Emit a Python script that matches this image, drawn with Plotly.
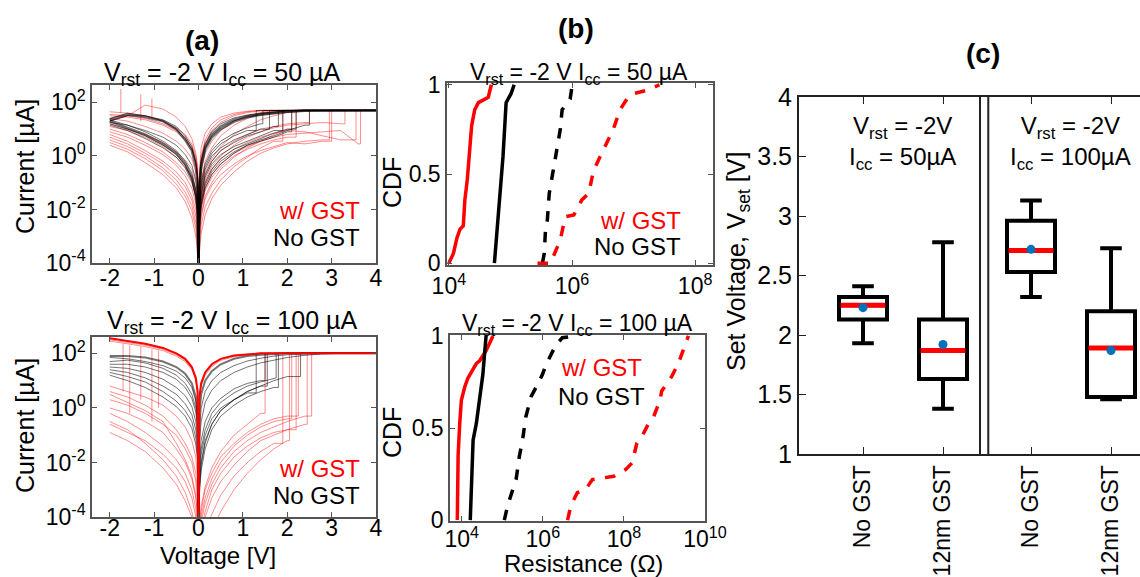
import plotly.graph_objects as go

W, H = 1140, 577
FONT = "Arial, Liberation Sans, Helvetica, sans-serif"

# ================= DATA =================
# ---- (a) I-V sweeps: log10(|I| / uA) read at a fixed voltage grid ----
V_NEG = [-2.0, -1.6, -1.2, -0.8, -0.5, -0.3, -0.15, -0.06, -0.02, 0.0]
V_POS = [0.0, 0.02, 0.06, 0.15, 0.3, 0.5, 0.8, 1.1, 1.4, 1.7, 2.0, 2.4, 2.8, 3.2, 3.6, 4.0]
V_END = 4.0
CC_LOG_50 = 1.7
CC_LOG_100 = 2.0

# Icc = 50 uA
IV50_RED_NEG = [
    [1.65, 1.6, 1.5, 1.3, 1.05, 0.8, 0.45, 0.0, -0.5, -4.5],
    [1.4, 1.3, 1.1, 0.85, 0.55, 0.25, -0.1, -0.6, -1.1, -4.5],
    [1.2, 1.0, 0.8, 0.5, 0.15, -0.15, -0.5, -1.0, -1.5, -4.5],
    [1.0, 0.8, 0.5, 0.15, -0.25, -0.6, -1.0, -1.5, -2.1, -4.5],
    [0.8, 0.55, 0.2, -0.2, -0.6, -1.0, -1.5, -2.0, -2.7, -4.5],
    [0.6, 0.35, 0.0, -0.45, -0.9, -1.35, -1.85, -2.5, -3.2, -4.5],
    [0.4, 0.15, -0.25, -0.7, -1.2, -1.7, -2.3, -3.0, -3.7, -4.5],
    [1.5, 1.45, 1.35, 1.15, 0.9, 0.6, 0.25, -0.25, -0.8, -4.5],
    [0.9, 0.7, 0.4, 0.05, -0.35, -0.75, -1.2, -1.8, -2.4, -4.5],
    [1.3, 1.5, 1.9, 1.75, 1.45, 1.1, 0.65, 0.1, -0.4, -4.5],
    [1.1, 0.95, 0.7, 0.35, -0.05, -0.4, -0.8, -1.3, -1.9, -4.5],
    [0.7, 0.45, 0.1, -0.3, -0.75, -1.15, -1.65, -2.25, -2.9, -4.5],
    [1.55, 1.5, 1.4, 1.2, 0.95, 0.7, 0.35, -0.1, -0.65, -4.5],
    [0.5, 0.25, -0.1, -0.55, -1.05, -1.5, -2.05, -2.7, -3.4, -4.5],
]
IV50_RED_RESET_V = [-1.75, -1.3, -1.05]
IV50_RED_RESET_HI = [2.5, 2.3, 2.15]
IV50_RED_RESET_LO = [1.6, 1.3, 1.4]
IV50_BLK_NEG = [
    [1.35, 1.55, 1.45, 1.3, 1.0, 0.6, 0.2, -0.4, -1.0, -4.5],
    [1.3, 1.05, 0.8, 0.45, 0.1, -0.3, -0.8, -1.4, -2.0, -4.5],
    [1.4, 1.6, 1.5, 1.35, 1.1, 0.75, 0.35, -0.2, -0.8, -4.5],
    [1.2, 1.0, 0.75, 0.4, 0.05, -0.35, -0.85, -1.5, -2.1, -4.5],
    [1.25, 1.15, 0.95, 0.7, 0.4, 0.05, -0.35, -0.9, -1.5, -4.5],
    [1.15, 0.95, 0.65, 0.3, -0.05, -0.45, -0.95, -1.6, -2.3, -4.5],
    [1.3, 1.5, 1.5, 1.3, 1.0, 0.65, 0.25, -0.3, -0.9, -4.5],
    [1.35, 1.15, 0.9, 0.55, 0.2, -0.2, -0.65, -1.25, -1.85, -4.5],
]
IV50_RED_LRS = [
    [-4.5, -0.6, 0.3, 0.85, 1.2, 1.45, 1.6, 1.67, 1.7, 1.7, 1.7, 1.7, 1.7, 1.7, 1.7, 1.7],
    [-4.5, -1.0, -0.1, 0.5, 0.95, 1.25, 1.5, 1.62, 1.68, 1.7, 1.7, 1.7, 1.7, 1.7, 1.7, 1.7],
    [-4.5, -1.5, -0.6, 0.1, 0.55, 0.95, 1.3, 1.5, 1.62, 1.68, 1.7, 1.7, 1.7, 1.7, 1.7, 1.7],
    [-4.5, -0.9, 0.0, 0.6, 1.05, 1.35, 1.55, 1.65, 1.7, 1.7, 1.7, 1.7, 1.7, 1.7, 1.7, 1.7],
    [-4.5, -1.8, -0.9, -0.2, 0.3, 0.75, 1.15, 1.4, 1.58, 1.66, 1.7, 1.7, 1.7, 1.7, 1.7, 1.7],
    [-4.5, -2.2, -1.3, -0.6, -0.1, 0.35, 0.8, 1.1, 1.35, 1.5, 1.62, 1.68, 1.7, 1.7, 1.7, 1.7],
]
IV50_BLK_LRS = [
    [-4.5, -1.2, -0.3, 0.35, 0.8, 1.1, 1.35, 1.48, 1.56, 1.62, 1.66, 1.7, 1.7, 1.7, 1.7, 1.7],
    [-4.5, -1.3, -0.4, 0.25, 0.7, 1.0, 1.28, 1.44, 1.54, 1.6, 1.65, 1.69, 1.7, 1.7, 1.7, 1.7],
    [-4.5, -1.1, -0.2, 0.45, 0.9, 1.2, 1.42, 1.53, 1.6, 1.65, 1.68, 1.7, 1.7, 1.7, 1.7, 1.7],
]
IV50_RED_HRS = [
    [-4.5, -2.8, -2.0, -1.3, -0.8, -0.4, 0.0, 0.25, 0.45, 0.6, 0.7],
    [-4.5, -3.0, -2.3, -1.6, -1.1, -0.7, -0.3, 0.0, 0.2, 0.35, 0.5, 0.45, 0.55],
    [-4.5, -2.5, -1.7, -1.0, -0.5, -0.1, 0.25, 0.5, 0.7, 0.85, 0.95, 0.9, 0.75, 0.6],
    [-4.5, -2.2, -1.4, -0.7, -0.2, 0.2, 0.55, 0.8, 1.0, 1.1, 1.2, 1.25],
    [-4.5, -3.3, -2.6, -1.9, -1.4, -0.9, -0.4, -0.05, 0.3, 0.55],
    [-4.5, -2.7, -1.9, -1.2, -0.7, -0.3, 0.1, 0.35, 0.55, 0.7, 0.8, 0.85, 0.9, 0.95, 0.45],
    [-4.5, -3.6, -2.9, -2.2, -1.6, -1.1, -0.6, -0.2, 0.1, 0.3, 0.45, 0.55, 0.6],
    [-4.5, -3.0, -2.2, -1.5, -1.0, -0.5, -0.05, 0.3, 0.55, 0.8, 1.0],
    [-4.5, -2.4, -1.6, -0.9, -0.4, 0.0, 0.4, 0.7, 0.9, 1.05, 1.15, 1.2, 1.25, 1.2],
]
IV50_RED_VSET = [2.2, 3.0, 3.55, 2.5, 1.9, 3.65, 2.95, 2.1, 3.3]
IV50_BLK_HRS = [
    [-4.5, -2.3, -1.5, -0.8, -0.3, 0.05, 0.35, 0.55, 0.75, 0.95],
    [-4.5, -2.0, -1.2, -0.5, 0.0, 0.3, 0.6, 0.8, 1.0],
    [-4.5, -2.5, -1.7, -1.0, -0.5, -0.1, 0.25, 0.45, 0.65, 0.85, 1.0],
    [-4.5, -1.9, -1.1, -0.4, 0.1, 0.45, 0.75, 0.95],
    [-4.5, -2.7, -1.9, -1.2, -0.7, -0.3, 0.1, 0.4, 0.6, 0.75, 0.95, 1.15],
    [-4.5, -2.2, -1.4, -0.7, -0.2, 0.2, 0.5, 0.75, 0.9, 1.1],
    [-4.5, -2.6, -1.8, -1.1, -0.6, -0.2, 0.15, 0.4, 0.55, 0.7, 0.9],
    [-4.5, -1.8, -1.0, -0.3, 0.2, 0.55, 0.85, 1.05, 1.2],
]
IV50_BLK_VSET = [1.9, 1.6, 2.2, 1.3, 2.5, 1.8, 2.1, 1.45]

# Icc = 100 uA
IV100_RED_NEG = [
    [2.55, 2.45, 2.35, 2.2, 2.0, 1.8, 1.5, 1.1, 0.6, -4.5],
    [2.5, 2.4, 2.3, 2.15, 1.95, 1.75, 1.45, 1.05, 0.55, -4.5],
    [0.8, 0.6, 0.4, 0.1, -0.3, -0.7, -1.2, -1.8, -2.6, -4.5],
    [0.3, 0.1, -0.2, -0.6, -1.0, -1.5, -2.0, -2.7, -3.5, -4.5],
    [-0.2, -0.5, -0.9, -1.4, -1.9, -2.4, -3.0, -3.7, -4.3, -4.5],
    [-0.9, -1.2, -1.6, -2.2, -2.8, -3.4, -4.0, -4.5, -4.5, -4.5],
    [0.5, 0.2, -0.1, -0.5, -1.3, -1.9, -2.5, -3.2, -3.9, -4.5],
    [-0.5, -0.8, -1.3, -1.9, -2.5, -3.1, -3.8, -4.5, -4.5, -4.5],
    [0.0, -0.2, -0.5, -0.9, -1.5, -2.0, -2.6, -3.3, -4.0, -4.5],
    [0.6, 0.4, 0.1, -0.3, -0.8, -1.3, -1.8, -2.4, -3.1, -4.5],
    [-0.6, -0.9, -1.2, -1.7, -2.2, -2.7, -3.3, -4.0, -4.5, -4.5],
    [2.45, 2.35, 2.25, 2.1, 1.9, 1.7, 1.4, 1.0, 0.5, -4.5],
]
IV100_RED_RESET_V = [-1.7, -1.55, -1.3, -1.05, -0.9]
IV100_RED_RESET_HI = [2.35, 2.3, 2.25, 2.15, 2.1]
IV100_RED_RESET_LO = [0.6, -0.2, 0.3, -0.5, 0.0]
IV100_BLK_NEG = [
    [1.9, 1.9, 1.85, 1.7, 1.5, 1.25, 0.9, 0.4, -0.2, -4.5],
    [1.7, 1.75, 1.65, 1.45, 1.2, 0.9, 0.5, 0.0, -0.6, -4.5],
    [1.5, 1.45, 1.3, 1.05, 0.75, 0.45, 0.05, -0.5, -1.1, -4.5],
    [1.3, 1.15, 0.95, 0.6, 0.25, -0.1, -0.5, -1.1, -1.7, -4.5],
    [1.85, 1.8, 1.7, 1.55, 1.35, 1.1, 0.75, 0.25, -0.35, -4.5],
    [1.6, 1.6, 1.5, 1.3, 1.05, 0.75, 0.35, -0.15, -0.75, -4.5],
    [1.4, 1.3, 1.1, 0.8, 0.5, 0.15, -0.25, -0.8, -1.4, -4.5],
    [1.2, 1.0, 0.75, 0.4, 0.05, -0.3, -0.75, -1.35, -1.95, -4.5],
]
IV100_RED_LRS = [
    [-4.5, 0.4, 0.9, 1.3, 1.6, 1.8, 1.92, 1.97, 2.0, 2.0, 2.0, 2.0, 2.0, 2.0, 2.0, 2.0],
    [-4.5, 0.3, 0.8, 1.2, 1.52, 1.74, 1.88, 1.95, 1.99, 2.0, 2.0, 2.0, 2.0, 2.0, 2.0, 2.0],
]
IV100_BLK_LRS = [
    [-4.5, -0.2, 0.5, 1.0, 1.35, 1.6, 1.8, 1.9, 1.95, 1.98, 2.0, 2.0, 2.0, 2.0, 2.0, 2.0],
    [-4.5, -0.8, 0.0, 0.6, 1.0, 1.3, 1.55, 1.72, 1.82, 1.9, 1.95, 1.98, 2.0, 2.0, 2.0, 2.0],
    [-4.5, -1.3, -0.5, 0.2, 0.65, 1.0, 1.3, 1.5, 1.65, 1.76, 1.85, 1.93, 1.98, 2.0, 2.0, 2.0],
]
IV100_RED_HRS = [
    [-4.5, -4.5, -4.2, -3.5, -2.8, -2.2, -1.6, -1.2, -0.9, -0.7, -0.5, -0.3],
    [-4.5, -4.5, -4.5, -4.0, -3.3, -2.7, -2.1, -1.6, -1.2, -1.0, -0.8],
    [-4.5, -4.5, -4.0, -3.3, -2.6, -2.0, -1.4, -1.0, -0.7, -0.5, -0.4],
    [-4.5, -4.5, -4.5, -4.5, -3.9, -3.2, -2.5, -2.0, -1.6, -1.3],
    [-4.5, -4.3, -3.6, -2.9, -2.2, -1.6, -1.0, -0.6, -0.2],
    [-4.5, -4.5, -4.5, -3.8, -3.0, -2.4, -1.8, -1.4, -1.1, -0.9, -0.8, -0.6],
    [-4.5, -4.5, -3.8, -3.0, -2.4, -1.8, -1.3, -0.9, -0.6, -0.4, -0.3],
    [-4.5, -4.5, -4.5, -4.5, -4.5, -3.8, -3.0, -2.4, -1.9, -1.5, -1.2],
]
IV100_RED_VSET = [2.55, 2.2, 2.1, 1.9, 1.5, 2.45, 2.25, 2.05]
IV100_BLK_HRS = [
    [-4.5, -2.0, -1.2, -0.5, 0.0, 0.35, 0.7, 0.9, 1.0],
    [-4.5, -2.6, -1.7, -1.0, -0.4, 0.0, 0.3, 0.55],
    [-4.5, -2.8, -2.0, -1.2, -0.6, -0.1, 0.3, 0.6, 0.8, 1.0, 1.15],
    [-4.5, -3.2, -2.3, -1.5, -0.8, -0.3, 0.1, 0.4, 0.6, 0.75],
    [-4.5, -2.3, -1.5, -0.8, -0.2, 0.2, 0.55, 0.8, 0.95, 1.1],
    [-4.5, -3.0, -2.1, -1.3, -0.6, -0.1, 0.3, 0.6, 0.8],
]
IV100_BLK_VSET = [1.5, 1.3, 2.3, 1.8, 1.75, 1.55]

# ---- (b) CDF of resistance: log10(R / Ohm) and CDF value ----
B50_RED_SOLID_LOGR = [4.0, 4.075, 4.13, 4.18, 4.235, 4.26, 4.30, 4.33, 4.37, 4.42, 4.48, 4.64, 4.69]
B50_RED_SOLID_CDF = [0, 0.056, 0.14, 0.19, 0.21, 0.355, 0.47, 0.6, 0.77, 0.86, 0.90, 0.93, 1.0]
B50_BLK_SOLID_LOGR = [4.74, 4.82, 4.88, 4.93, 5.01, 5.06]
B50_BLK_SOLID_CDF = [0, 0.355, 0.6, 0.9, 0.95, 1.0]
B50_BLK_DASH_LOGR = [5.52, 5.55, 5.57, 5.60, 5.63, 5.65, 5.71, 5.73, 5.79, 5.81, 5.84, 5.97, 6.0, 6.11]
B50_BLK_DASH_CDF = [0, 0.056, 0.19, 0.243, 0.39, 0.43, 0.54, 0.58, 0.69, 0.75, 0.86, 0.92, 0.99, 1.0]
B50_RED_DASH_LOGR = [5.44, 5.65, 5.81, 5.89, 6.03, 6.16, 6.27, 6.35, 6.46, 6.56, 6.67, 6.78, 6.91, 6.99, 7.23, 7.42]
B50_RED_DASH_CDF = [0, 0.0, 0.13, 0.26, 0.27, 0.355, 0.39, 0.52, 0.6, 0.67, 0.75, 0.86, 0.93, 0.95, 0.97, 1.0]

B100_RED_SOLID_LOGR = [3.89, 3.91, 3.95, 3.99, 4.07, 4.15, 4.28, 4.36, 4.44, 4.60, 4.77]
B100_RED_SOLID_CDF = [0, 0.35, 0.525, 0.65, 0.72, 0.77, 0.82, 0.85, 0.865, 0.92, 1.0]
B100_BLK_SOLID_LOGR = [4.21, 4.28, 4.36, 4.44, 4.52, 4.60]
B100_BLK_SOLID_CDF = [0, 0.435, 0.525, 0.65, 0.79, 1.0]
B100_BLK_DASH_LOGR = [5.05, 5.13, 5.26, 5.34, 5.42, 5.50, 5.58, 5.71, 5.83, 5.99, 6.08, 6.20, 6.32, 6.48, 6.81]
B100_BLK_DASH_CDF = [0, 0.077, 0.167, 0.22, 0.345, 0.435, 0.56, 0.67, 0.72, 0.79, 0.845, 0.9, 0.95, 0.99, 1.0]
B100_RED_DASH_LOGR = [6.61, 6.69, 6.85, 7.06, 7.22, 7.46, 7.75, 8.04, 8.20, 8.32, 8.44, 8.61, 8.73, 8.89, 8.93, 9.18, 9.34, 9.51, 9.59]
B100_RED_DASH_CDF = [0, 0.077, 0.149, 0.167, 0.22, 0.23, 0.238, 0.274, 0.31, 0.418, 0.453, 0.525, 0.56, 0.65, 0.70, 0.78, 0.85, 0.95, 1.0]

# ---- (c) Set voltage box statistics ----
C_POS = [1.0, 2.0, 3.1, 4.1]
C_LABELS = ["No GST", "12nm GST", "No GST", "12nm GST"]
C_LOWER = [1.93, 1.38, 2.32, 1.46]
C_Q1 = [2.13, 1.63, 2.53, 1.48]
C_MED = [2.25, 1.87, 2.71, 1.89]
C_Q3 = [2.32, 2.13, 2.96, 2.20]
C_UPPER = [2.41, 2.78, 3.13, 2.73]
C_MEAN = [2.23, 1.92, 2.72, 1.87]
C_DIVIDERS = [2.4625, 2.566]

# ================= FIGURE =================
RED_T = "rgba(255,0,0,0.45)"
BLK_T = "rgba(0,0,0,0.55)"

fig = go.Figure()


def line(x, y, xa, ya, color, width, dash="solid"):
    fig.add_trace(go.Scatter(x=x, y=y, mode="lines", xaxis=xa, yaxis=ya,
                             line=dict(color=color, width=width, dash=dash),
                             showlegend=False, hoverinfo="skip"))


def add_iv(xa, ya, neg, lrs, hrs, vset, cc, color, thick=0, thick_w=2.5):
    for i, vals in enumerate(neg):
        line(V_NEG, [10 ** v for v in vals], xa, ya, color, thick_w if i < thick else 1)
    for i, vals in enumerate(lrs):
        line(V_POS[:len(vals)], [10 ** v for v in vals], xa, ya, color, thick_w if i < thick else 1)
    for vals, vs in zip(hrs, vset):
        xs = V_POS[:len(vals)] + [vs, vs, V_END]
        ys = [10 ** v for v in vals] + [10 ** vals[-1], 10 ** cc, 10 ** cc]
        line(xs, ys, xa, ya, color, 1)


def add_resets(xa, ya, vr, hi, lo, color):
    for v, h, l in zip(vr, hi, lo):
        line([v, v], [10 ** h, 10 ** l], xa, ya, color, 1)


# (a) top
add_iv("x", "y", IV50_RED_NEG, IV50_RED_LRS, IV50_RED_HRS, IV50_RED_VSET, CC_LOG_50, RED_T)
add_resets("x", "y", IV50_RED_RESET_V, IV50_RED_RESET_HI, IV50_RED_RESET_LO, RED_T)
add_iv("x", "y", IV50_BLK_NEG, IV50_BLK_LRS, IV50_BLK_HRS, IV50_BLK_VSET, CC_LOG_50, BLK_T, thick=2)
# (a) bottom
add_iv("x2", "y2", IV100_RED_NEG, IV100_RED_LRS, IV100_RED_HRS, IV100_RED_VSET, CC_LOG_100, RED_T)
add_resets("x2", "y2", IV100_RED_RESET_V, IV100_RED_RESET_HI, IV100_RED_RESET_LO, RED_T)
add_iv("x2", "y2", IV100_BLK_NEG, IV100_BLK_LRS, IV100_BLK_HRS, IV100_BLK_VSET, CC_LOG_100, BLK_T, thick=1, thick_w=2)
line(V_NEG, [10 ** v for v in IV100_RED_NEG[0]], "x2", "y2", "red", 2)
line(V_POS, [10 ** v for v in IV100_RED_LRS[0]], "x2", "y2", "red", 2)

# (b) CDFs
for xa, ya, series in [
    ("x3", "y3", [(B50_RED_SOLID_LOGR, B50_RED_SOLID_CDF, "red", "solid"),
                  (B50_BLK_SOLID_LOGR, B50_BLK_SOLID_CDF, "black", "solid"),
                  (B50_BLK_DASH_LOGR, B50_BLK_DASH_CDF, "black", "dash"),
                  (B50_RED_DASH_LOGR, B50_RED_DASH_CDF, "red", "dash")]),
    ("x4", "y4", [(B100_RED_SOLID_LOGR, B100_RED_SOLID_CDF, "red", "solid"),
                  (B100_BLK_SOLID_LOGR, B100_BLK_SOLID_CDF, "black", "solid"),
                  (B100_BLK_DASH_LOGR, B100_BLK_DASH_CDF, "black", "dash"),
                  (B100_RED_DASH_LOGR, B100_RED_DASH_CDF, "red", "dash")]),
]:
    for lr, cdf, col, dash in series:
        line([10 ** v for v in lr], cdf, xa, ya, col, 3.5, dash)

# (c) boxes
fig.add_trace(go.Box(x=C_POS, q1=C_Q1, median=C_MED, q3=C_Q3, lowerfence=C_LOWER,
                     upperfence=C_UPPER, xaxis="x5", yaxis="y5", width=0.6,
                     whiskerwidth=0.45, fillcolor="white",
                     line=dict(color="black", width=4), boxpoints=False,
                     showlegend=False, hoverinfo="skip"))
for p, m in zip(C_POS, C_MED):
    line([p - 0.28, p + 0.28], [m, m], "x5", "y5", "red", 5)
fig.add_trace(go.Scatter(x=C_POS, y=C_MEAN, mode="markers", xaxis="x5", yaxis="y5",
                         marker=dict(color="rgb(0,114,189)", size=9),
                         showlegend=False, hoverinfo="skip"))


# ================= LAYOUT =================
def px_x(p):
    return p / W


def px_y(p):
    return 1 - p / H


TICKFONT = dict(family=FONT, size=23, color="black")
frame = dict(showline=True, linecolor="#555", linewidth=1.5, mirror="ticks", ticks="inside",
             ticklen=5, tickcolor="#555", showgrid=False, zeroline=False, tickfont=TICKFONT,
             automargin=False)

VTICKS = [-2, -1, 0, 1, 2, 3, 4]
VTEXT = [str(v) if v >= 0 else "-" + str(-v) for v in VTICKS]
ITICKS = [1e-4, 1e-2, 1, 1e2]
ITEXT = ["10<sup>-4</sup>", "10<sup>-2</sup>", "10<sup>0</sup>", "10<sup>2</sup>"]

layout = dict(
    template="none",
    width=W, height=H, margin=dict(l=0, r=0, t=0, b=0, pad=0), autosize=False,
    paper_bgcolor="white", plot_bgcolor="white",
    font=dict(family=FONT, size=22, color="black"),
    xaxis=dict(frame, domain=[px_x(92), px_x(376)], range=[-2.4, 4], anchor="y",
               tickvals=VTICKS, ticktext=VTEXT, ticklabelstandoff=-6),
    yaxis=dict(frame, domain=[px_y(263), px_y(85)], type="log", range=[-4, 2.65], anchor="x",
               tickvals=ITICKS, ticktext=ITEXT),
    xaxis2=dict(frame, domain=[px_x(92), px_x(376)], range=[-2.4, 4], anchor="y2",
                tickvals=VTICKS, ticktext=VTEXT, ticklabelstandoff=-10),
    yaxis2=dict(frame, domain=[px_y(517), px_y(337)], type="log", range=[-4, 2.6], anchor="x2",
                tickvals=ITICKS, ticktext=ITEXT),
    xaxis3=dict(frame, domain=[px_x(447), px_x(713)], type="log", range=[3.97, 8.29], anchor="y3",
                tickvals=[1e4, 1e6, 1e8], ticktext=["10<sup>4</sup>", "10<sup>6</sup>", "10<sup>8</sup>"]),
    yaxis3=dict(frame, domain=[px_y(265), px_y(83)], range=[-0.01, 1.01], anchor="x3",
                tickvals=[0, 0.5, 1], ticktext=["0", "0.5", "1"]),
    xaxis4=dict(frame, domain=[px_x(450), px_x(705)], type="log", range=[3.71, 10.0], anchor="y4",
                tickvals=[1e4, 1e6, 1e8, 1e10], ticklabelstandoff=-3,
                ticktext=["10<sup>4</sup>", "10<sup>6</sup>", "10<sup>8</sup>", "10<sup>10</sup>"]),
    yaxis4=dict(frame, domain=[px_y(521), px_y(335)], range=[-0.005, 1.005], anchor="x4",
                tickvals=[0, 0.5, 1], ticktext=["0", "0.5", "1"]),
    xaxis5=dict(showline=True, linecolor="#222", linewidth=2, mirror="ticks", ticks="inside",
                ticklen=7, tickcolor="#222", showgrid=False, zeroline=False, automargin=False,
                domain=[px_x(799), 1.0], range=[0.2, 4.4625], anchor="y5",
                tickvals=C_POS, ticktext=C_LABELS, tickangle=-90,
                tickfont=dict(family=FONT, size=23, color="black")),
    yaxis5=dict(showline=True, linecolor="#222", linewidth=2, mirror=False, ticks="inside",
                ticklen=7, tickcolor="#222", showgrid=False, zeroline=False, automargin=False,
                domain=[px_y(454), px_y(97)], range=[1, 4], anchor="x5",
                tickvals=[1, 1.5, 2, 2.5, 3, 3.5, 4],
                ticktext=["1", "1.5", "2", "2.5", "3", "3.5", "4"],
                tickfont=dict(family=FONT, size=25, color="black")),
)
fig.update_layout(**layout)

# divider double line in (c)
for d in C_DIVIDERS:
    fig.add_shape(type="line", xref="x5", yref="y5 domain", x0=d, x1=d, y0=0, y1=1,
                  line=dict(color="#222", width=2))

ann = []


def text(s, x, y, size=22, color="black", bold=False, angle=0, xanchor="center"):
    ann.append(dict(text=("<b>%s</b>" % s) if bold else s, x=px_x(x), y=px_y(y),
                    xref="paper", yref="paper", showarrow=False, textangle=angle,
                    xanchor=xanchor, yanchor="middle",
                    font=dict(family=FONT, size=size, color=color)))


text("(a)", 202, 41, size=28, bold=True)
text("(b)", 576, 28, size=28, bold=True)
text("(c)", 983, 53, size=28, bold=True)
text("V<sub>rst</sub> = -2 V I<sub>cc</sub> = 50 µA", 222, 74, size=25)
text("V<sub>rst</sub> = -2 V I<sub>cc</sub> = 100 µA", 232, 322, size=25)
text("V<sub>rst</sub> = -2 V I<sub>cc</sub> = 50 µA", 579, 73, size=23)
text("V<sub>rst</sub> = -2 V I<sub>cc</sub> = 100 µA", 577, 324, size=23)
text("Current [µA]", 25, 167, size=25, angle=-90)
text("Current [µA]", 25, 426, size=25, angle=-90)
text("Voltage [V]", 218, 555, size=24)
text("CDF", 392, 183, size=25, angle=-90)
text("CDF", 392, 433, size=25, angle=-90)
text("Resistance (Ω)", 583, 563, size=24)
text("Set Voltage, V<sub>set</sub> [V]", 738, 262, size=25, angle=-90)
text("w/ GST", 362, 210, size=24, color="red", xanchor="right")
text("No GST", 362, 237, size=24, color="black", xanchor="right")
text("w/ GST", 362, 468, size=24, color="red", xanchor="right")
text("No GST", 362, 495, size=24, color="black", xanchor="right")
text("w/ GST", 683, 220, size=24, color="red", xanchor="right")
text("No GST", 683, 247, size=24, color="black", xanchor="right")
text("w/ GST", 601, 368, size=24, color="red")
text("No GST", 601, 396, size=24, color="black")
text("V<sub>rst</sub> = -2V<br>I<sub>cc</sub> = 50µA", 902, 143, size=24)
text("V<sub>rst</sub> = -2V<br>I<sub>cc</sub> = 100µA", 1070, 143, size=24)
fig.update_layout(annotations=ann)

fig.write_html("out.html")
